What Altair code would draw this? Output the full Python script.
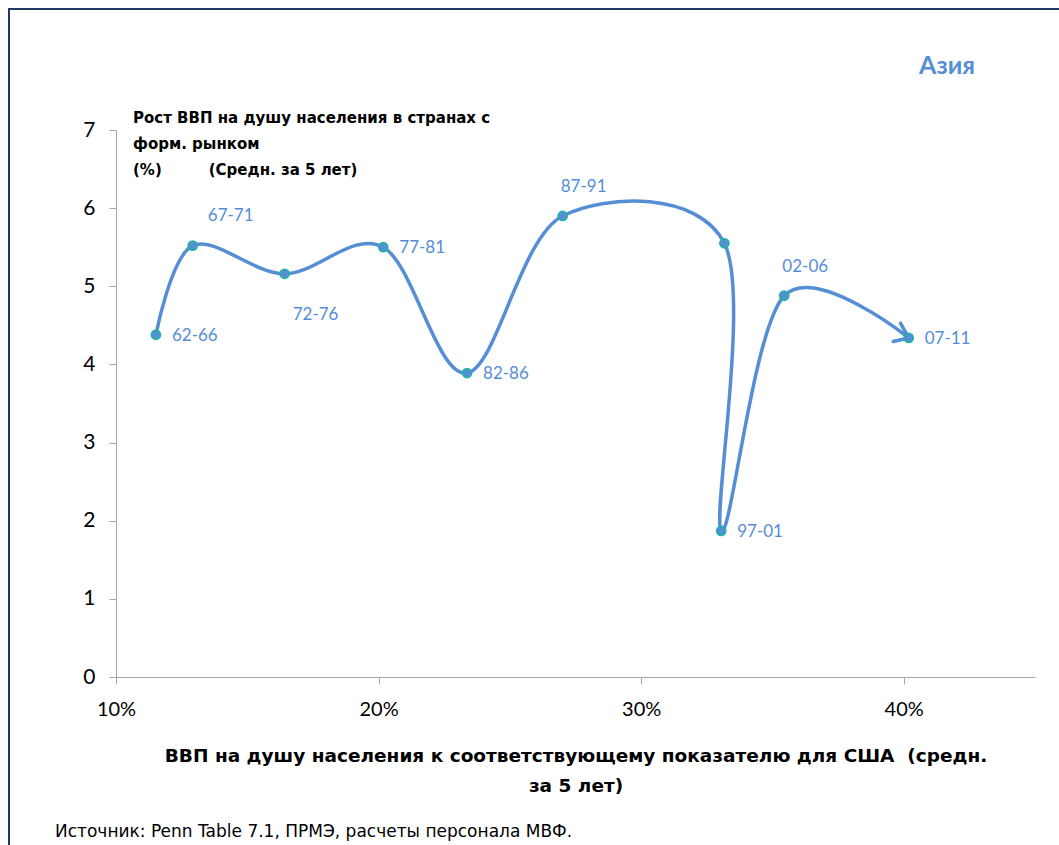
import altair as alt
import pandas as pd

periods = ["62-66", "67-71", "72-76", "77-81", "82-86", "87-91", "92-96", "97-01", "02-06", "07-11"]
gdp_ratio = [0.1152, 0.1292, 0.1642, 0.2018, 0.2337, 0.2701, 0.3317, 0.3305, 0.3545, 0.4019]
growth = [4.38, 5.52, 5.16, 5.50, 3.89, 5.90, 5.55, 1.87, 4.88, 4.34]
show_label = [True, True, True, True, True, True, False, True, True, True]

label_right = ["62-66", "77-81", "82-86", "97-01", "07-11"]
label_above = ["87-91", "02-06"]

df = pd.DataFrame({
    "period": periods,
    "x": gdp_ratio,
    "y": growth,
    "i": list(range(len(periods))),
    "show": show_label,
})

BLUE = "#558ED5"
TEAL = "#19B89A"
FONT = "Lato"
TFONT = "DejaVu Sans"
NB = "\u00a0"

W, H = 919, 547
PL, PT = 116, 130

xscale = alt.Scale(domain=[0.10, 0.45], nice=False, zero=False)
yscale = alt.Scale(domain=[0, 7], nice=False)

base = alt.Chart(df).encode(
    x=alt.X("x:Q", scale=xscale,
            axis=alt.Axis(values=[0.1, 0.2, 0.3, 0.4], format=".0%",
                          title=["ВВП на душу населения к соответствующему показателю для США" + NB * 2 + "(средн." + NB * 5,
                                 "за 5 лет)"],
                          titleFont=TFONT, titleFontSize=18.5, titleFontWeight="bold",
                          titleColor="black", titlePadding=27, titleLineHeight=30,
                          labelFont=FONT, labelFontSize=20, labelColor="black",
                          labelPadding=15, labelFlush=False, tickSize=7, tickColor="#A6A6A6",
                          domainColor="#A6A6A6", grid=False)),
    y=alt.Y("y:Q", scale=yscale,
            axis=alt.Axis(values=[0, 1, 2, 3, 4, 5, 6, 7], format="d", title=None,
                          labelFont=FONT, labelFontSize=21, labelColor="black",
                          labelPadding=14, labelFlush=False, tickSize=7, tickColor="#A6A6A6",
                          domainColor="#A6A6A6", grid=False)),
)

line = base.mark_line(interpolate="cardinal", tension=0, color=BLUE, strokeWidth=3.5).encode(
    order="i:Q")

last = df[df["period"] == "07-11"]
arrow = alt.Chart(last).mark_point(
    shape="M-1,-0.8L0,0L-1,0.7", filled=False, stroke=BLUE, strokeWidth=3.5,
    size=676, angle=22, opacity=1, strokeJoin="miter", strokeCap="round"
).encode(x=alt.X("x:Q", scale=xscale), y=alt.Y("y:Q", scale=yscale))

points = base.mark_point(filled=True, fill=BLUE, stroke=TEAL, strokeWidth=1.5,
                         size=85, opacity=1)

lab_style = dict(font=FONT, fontSize=17, color=BLUE)
lab_right = base.transform_filter(
    alt.FieldOneOfPredicate(field="period", oneOf=label_right)
).mark_text(align="left", baseline="middle", dx=16, dy=1, **lab_style).encode(text="period:N")
lab_above = base.transform_filter(
    alt.FieldOneOfPredicate(field="period", oneOf=label_above)
).mark_text(align="center", baseline="middle", dx=21, dy=-29, **lab_style).encode(text="period:N")
lab_6771 = base.transform_filter(
    alt.datum.period == "67-71"
).mark_text(align="center", baseline="middle", dx=38, dy=-30, **lab_style).encode(text="period:N")
lab_7276 = base.transform_filter(
    alt.datum.period == "72-76"
).mark_text(align="center", baseline="middle", dx=31, dy=41, **lab_style).encode(text="period:N")

def note(text, x, y, **kw):
    return alt.Chart(pd.DataFrame({"t": [text]})).mark_text(**kw).encode(
        x=alt.value(x), y=alt.value(y), text="t:N")

title_asia = note("Азия", 947 - PL, 66 - PT, font=FONT, fontSize=25, fontWeight="bold",
                  color=BLUE, align="center", baseline="middle")
ytitle = alt.Chart(pd.DataFrame({"t": [["Рост ВВП на душу населения в странах с",
                                         "форм. рынком",
                                         "(%)" + NB * 9 + "(Средн. за 5 лет)"]]})).mark_text(
    font=TFONT, fontSize=15, fontWeight="bold", color="black", align="left",
    baseline="middle", lineHeight=26
).encode(x=alt.value(133 - PL), y=alt.value(118 - PT), text="t")
source = note("Источник: Penn Table 7.1, ПРМЭ, расчеты персонала МВФ.", 55 - PL, 832 - PT,
              font=TFONT, fontSize=17, color="black", align="left", baseline="middle")

border = alt.Chart(pd.DataFrame({"a": [0]})).mark_rect(
    fill=None, stroke="#1F3864", strokeWidth=2
).encode(x=alt.value(9 - PL), x2=alt.value(1070 - PL), y=alt.value(9 - PT), y2=alt.value(860 - PT))

chart = alt.layer(
    border, line, arrow, points, lab_right, lab_above, lab_6771, lab_7276,
    title_asia, ytitle, source
).properties(
    width=W, height=H,
    autosize=alt.AutoSizeParams(type="none"),
    padding={"left": PL, "top": PT, "right": 1059 - PL - W, "bottom": 845 - PT - H},
    background="white",
).configure_view(stroke=None)

chart.save("out.html", embed_options={"renderer": "svg", "actions": False})
